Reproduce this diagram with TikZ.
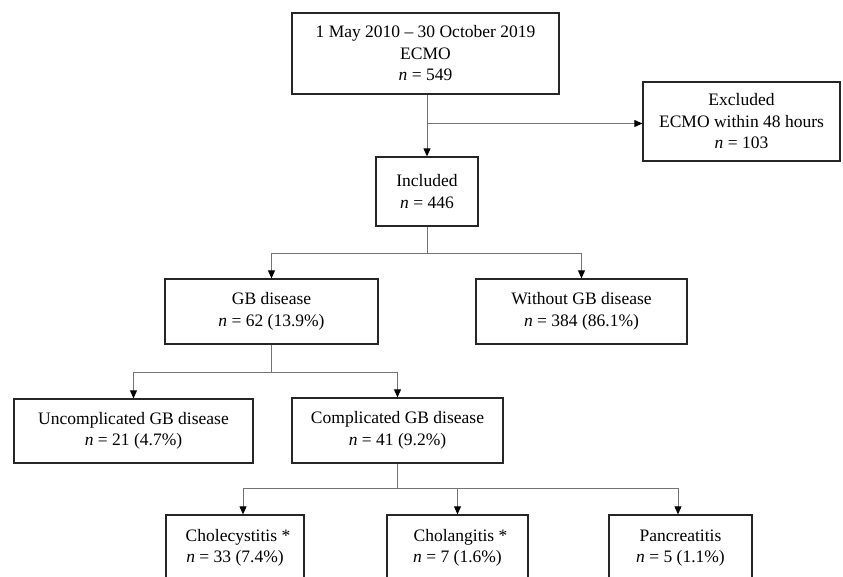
\documentclass[tikz,border=0pt]{standalone}
\usepackage{fontspec}
\setmainfont{Liberation Serif}
\usetikzlibrary{arrows.meta}
\begin{document}
\begin{tikzpicture}[x=1pt,y=-1pt,
  box/.style={draw=black!85,line width=1.3pt,fill=white,align=center,inner sep=0pt,
    font=\fontsize{17.5}{21.5}\selectfont},
  arr/.style={draw=black!55,line width=0.9pt,-{Triangle[length=8pt,width=7pt,color=black]}},
  ln/.style={draw=black!55,line width=0.9pt}]
\useasboundingbox (0,0) rectangle (843,576);
\node[box,minimum width=267pt,minimum height=81pt] (top) at (425.5,53.5)
  {1 May 2010 – 30 October 2019\\ECMO\\\textit{n} = 549};
\node[box,minimum width=197pt,minimum height=79pt] (excl) at (741.5,121.5)
  {Excluded\\ECMO within 48 hours\\\textit{n} = 103};
\node[box,minimum width=102pt,minimum height=69pt] (inc) at (427,191.5)
  {Included\\\textit{n} = 446};
\node[box,minimum width=213pt,minimum height=65pt] (gb) at (271.5,311.5)
  {GB disease\\\textit{n} = 62 (13.9\%)};
\node[box,minimum width=211pt,minimum height=65pt] (wo) at (581.5,311.5)
  {Without GB disease\\\textit{n} = 384 (86.1\%)};
\node[box,minimum width=239pt,minimum height=64pt] (unc) at (133.5,431)
  {Uncomplicated GB disease\\\textit{n} = 21 (4.7\%)};
\node[box,minimum width=211pt,minimum height=65pt] (comp) at (397.5,430.5)
  {Complicated GB disease\\\textit{n} = 41 (9.2\%)};
\node[box,minimum width=138pt,minimum height=66pt] (chole) at (235,548)
  {\hspace*{6pt}Cholecystitis *\\\textit{n} = 33 (7.4\%)};
\node[box,minimum width=141pt,minimum height=66pt] (cholan) at (457.5,548)
  {\hspace*{6pt}Cholangitis *\\\textit{n} = 7 (1.6\%)};
\node[box,minimum width=143pt,minimum height=66pt] (panc) at (680.5,548)
  {Pancreatitis\\\textit{n} = 5 (1.1\%)};
% connectors
\coordinate (b1) at (427,123.5);
\draw[arr] (top.south -| inc.north) -- (inc.north);
\draw[arr] (b1) -- (b1 -| excl.west);
\coordinate (j2) at (427,253);
\draw[ln] (inc.south) -- (j2);
\draw[arr] (j2) -| (gb.north);
\draw[arr] (j2) -| (wo.north);
\coordinate (j3) at (271.5,372);
\draw[ln] (gb.south) -- (j3);
\draw[arr] (j3) -| (unc.north);
\draw[arr] (j3) -| (comp.north);
\coordinate (j4) at (397.5,488);
\draw[ln] (comp.south) -- (j4);
\draw[arr] (j4) -| ([xshift=8pt]chole.north);
\draw[arr] (j4) -| (cholan.north);
\draw[arr] (j4) -| ([xshift=-2.5pt]panc.north);
\end{tikzpicture}
\end{document}
